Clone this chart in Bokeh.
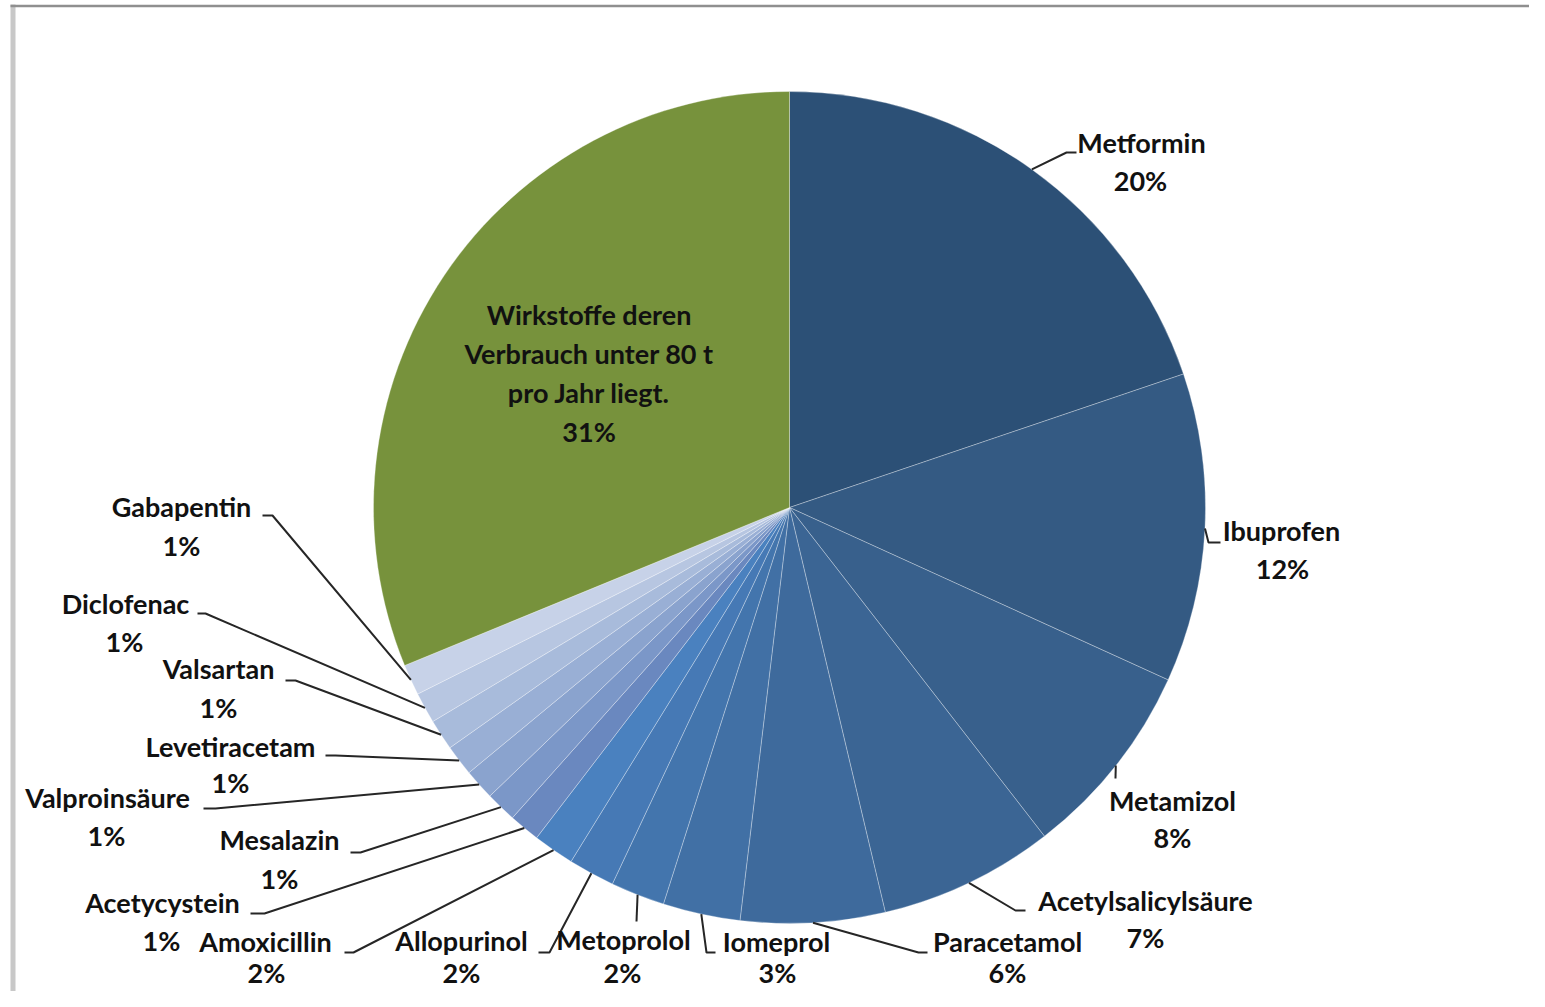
import math
from bokeh.plotting import figure
from bokeh.models import Range1d, ColumnDataSource
from bokeh.core.properties import value
from bokeh.embed import file_html
from bokeh.resources import INLINE

# ---------------- data ----------------
names = ["Metformin", "Ibuprofen", "Metamizol", "Acetylsalicylsäure", "Paracetamol",
         "Iomeprol", "Metoprolol", "Allopurinol", "Amoxicillin", "Acetycystein",
         "Mesalazin", "Valproinsäure", "Levetiracetam", "Valsartan", "Diclofenac",
         "Gabapentin", "Wirkstoffe deren Verbrauch unter 80 t pro Jahr liegt."]
shares = [19.8, 12.0, 7.7, 6.8, 5.6, 3.0, 2.1, 1.8, 1.6, 1.2, 1.2, 1.2, 1.2, 1.2, 1.2, 1.2, 31.2]
pct_labels = ["20%", "12%", "8%", "7%", "6%", "3%", "2%", "2%", "2%", "1%",
              "1%", "1%", "1%", "1%", "1%", "1%", "31%"]
rest_lines = ["Wirkstoffe deren", "Verbrauch unter 80 t", "pro Jahr liegt."]

# ---------------- styles / layout ----------------
colors = ["#2C5076", "#345A83", "#38608C", "#3B6594", "#3E6A9C", "#4170A5", "#4375AD",
          "#4679B5", "#4A81BF", "#6A88BF", "#7B97C8", "#8AA3CE", "#99AFD5", "#A8BBDB",
          "#B7C6E1", "#C7D2E8", "#77923C"]
CX, CY, R = 789, 507, 416   # pixel position of pie centre and radius

# label positions (px) : name line, percent line
name_pos = [(1141, 142), (1281, 530), (1172, 800), (1145, 900), (1007, 941),
            (776, 941), (623, 939), (461, 940), (265, 941), (162, 902),
            (279, 839), (107, 797), (230, 746), (218, 668), (125, 603), (181, 506)]
pct_pos = [(1140, 180), (1282, 568), (1172, 837), (1145, 937), (1007, 972),
           (777, 972), (622, 972), (461, 972), (266, 972), (161, 940),
           (279, 878), (106, 835), (230, 782), (218, 707), (124, 641), (181, 545)]
# leader line elbow and end points (px)
leader_pts = [[(1066, 152), (1076, 152)], [(1208, 542), (1220, 542)],
              [(1115, 778), (1115, 778)], [(1015, 910), (1025, 910)],
              [(918, 952), (927, 952)], [(706, 952), (715, 952)],
              [(636, 921), (636, 921)], [(549, 952), (538, 952)],
              [(353, 952), (344, 952)], [(264, 913), (250, 913)],
              [(360, 852), (350, 852)], [(215, 808), (203, 808)],
              [(335, 755), (325, 755)], [(295, 680), (285, 680)],
              [(205, 613), (197, 613)], [(272, 515), (262, 515)]]

W, H = 1529, 991
p = figure(width=W, height=H, output_backend="svg", toolbar_location=None,
           x_range=Range1d(0, W), y_range=Range1d(-H, 0),
           x_axis_location=None, y_axis_location=None, min_border=0)
p.grid.visible = False
p.outline_line_color = None
p.background_fill_color = "white"
p.border_fill_color = "white"

# frame lines of the original screenshot
p.line([12.5, 12.5], [-4, -H], line_color="#c8c8c8", line_width=5)
p.line([10, W], [-5.5, -5.5], line_color="#8f8f8f", line_width=2.5)

# ---------------- wedges ----------------
total = sum(shares)
starts, ends, mids = [], [], []
cum = 0.0
for s in shares:
    a0 = math.pi / 2 - 2 * math.pi * cum / total
    cum += s
    a1 = math.pi / 2 - 2 * math.pi * cum / total
    starts.append(a1)
    ends.append(a0)
    mids.append((a0 + a1) / 2)

src = ColumnDataSource(dict(start=starts, end=ends, color=colors, name=names))
p.wedge(x=CX, y=-CY, radius=R, start_angle="start", end_angle="end",
        direction="anticlock", fill_color="color", line_color="white",
        line_alpha=0.3, line_width=1, source=src)

# ---------------- leader lines ----------------
for i, pts in enumerate(leader_pts):
    sx = CX + R * math.cos(mids[i])
    sy = CY - R * math.sin(mids[i])
    xs = [sx] + [q[0] for q in pts]
    ys = [-sy] + [-q[1] for q in pts]
    p.line(xs, ys, line_color="#262626", line_width=2)

# ---------------- labels ----------------
font = value("Lato")
fs = "27px"
p.text(x=[q[0] for q in name_pos], y=[-q[1] for q in name_pos], text=names[:16],
       text_font=font, text_font_style="bold", text_font_size=fs,
       text_align="center", text_baseline="middle", text_color="#111111")
p.text(x=[q[0] for q in pct_pos], y=[-q[1] for q in pct_pos], text=pct_labels[:16],
       text_font=font, text_font_style="bold", text_font_size=fs,
       text_align="center", text_baseline="middle", text_color="#111111")

# label inside the green slice
gm = mids[-1]
gx = CX + 0.58 * R * math.cos(gm)
gy = CY - 0.58 * R * math.sin(gm)
inner = rest_lines + [pct_labels[-1]]
offs = [-58.5, -19.5, 19.5, 58.5]
p.text(x=[gx] * 4, y=[-(gy + o) for o in offs], text=inner,
       text_font=font, text_font_style="bold", text_font_size=fs,
       text_align="center", text_baseline="middle", text_color="#111111")

open("out.html", "w").write(file_html(p, INLINE))
